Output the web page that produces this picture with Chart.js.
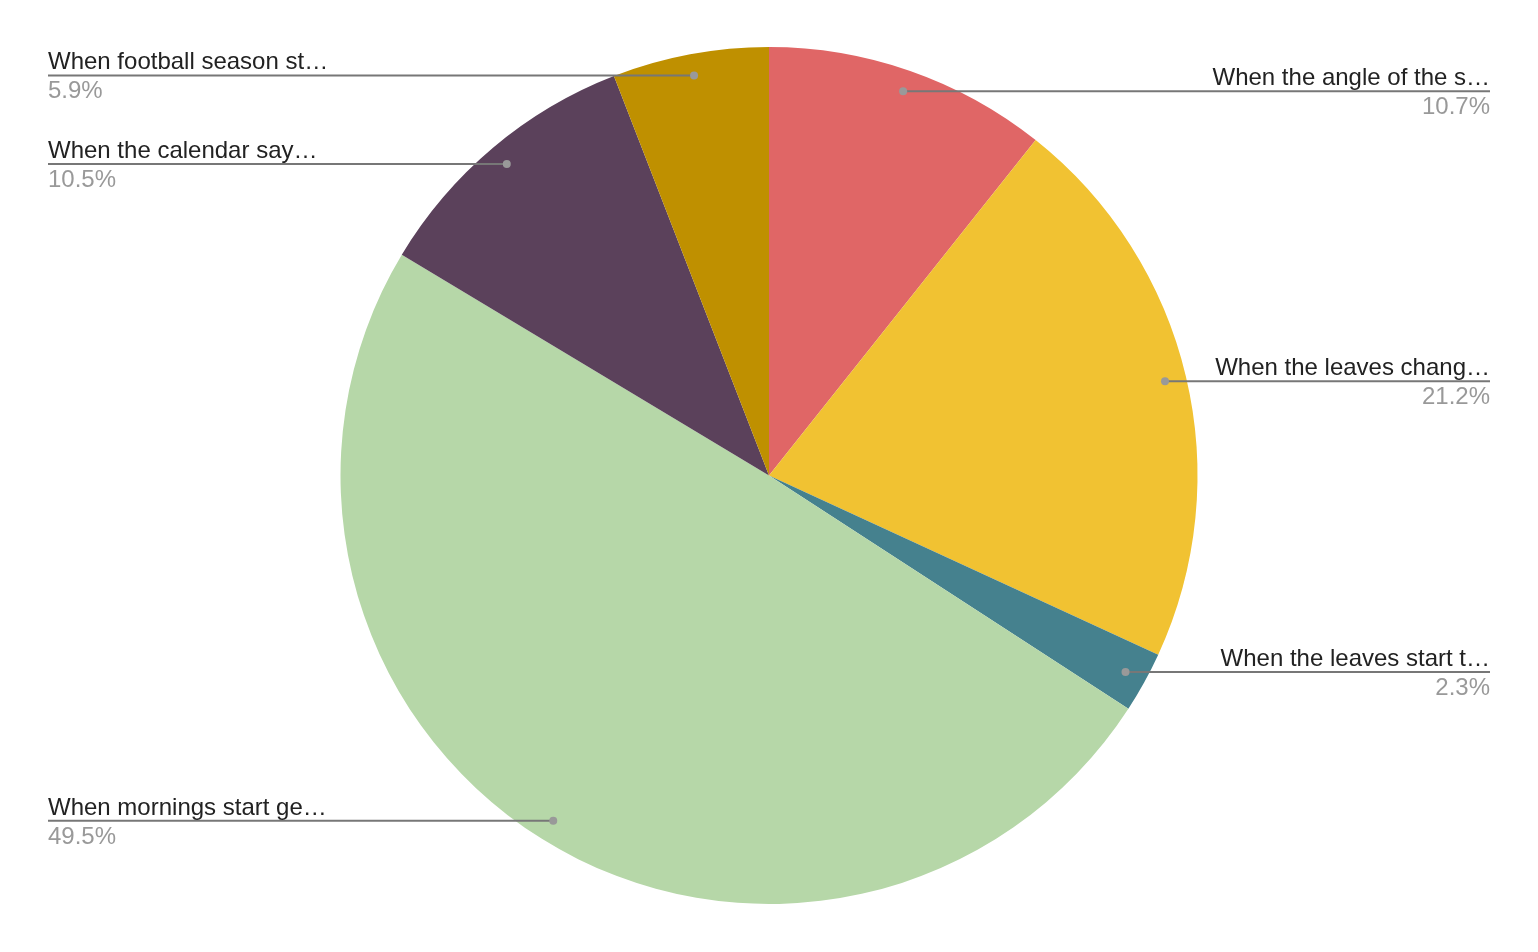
<!DOCTYPE html>
<html>
<head>
<meta charset="utf-8">
<script src="https://cdn.jsdelivr.net/npm/chart.js@4/dist/chart.umd.min.js"></script>
<style>
    body { margin: 0; background: #fff; }
    #wrap { width: 1538px; height: 952px; }
</style>
</head>
<body>
<div id="wrap"><canvas id="myChart"></canvas></div>
<script>
// podatki
const labels = [
    "When the angle of the s\u2026",
    "When the leaves chang\u2026",
    "When the leaves start t\u2026",
    "When mornings start ge\u2026",
    "When the calendar say\u2026",
    "When football season st\u2026",
];
const values = [10.7, 21.2, 2.3, 49.5, 10.5, 5.9];
const colors = ["#e06666", "#f1c232", "#45818e", "#b6d7a8", "#5b415b", "#bf9000"];

// oznake s crtami
const sideLabels = {
    id: "sideLabels",
    afterDraw(chart) {
        const ctx = chart.ctx;
        const arcs = chart.getDatasetMeta(0).data;
        const total = values.reduce((a, b) => a + b, 0);
        ctx.save();
        arcs.forEach((arc, i) => {
            const mid = (arc.startAngle + arc.endAngle) / 2;
            const r = arc.outerRadius * 0.95;
            const px = arc.x + Math.cos(mid) * r;
            const py = arc.y + Math.sin(mid) * r;
            const right = Math.cos(mid) >= 0;
            const edge = right ? 1490 : 48;

            ctx.strokeStyle = "#777777";
            ctx.lineWidth = 2;
            ctx.beginPath();
            ctx.moveTo(px, py);
            ctx.lineTo(edge, py);
            ctx.stroke();

            ctx.fillStyle = "#999999";
            ctx.beginPath();
            ctx.arc(px, py, 4, 0, Math.PI * 2);
            ctx.fill();

            ctx.font = "24px 'Liberation Sans', Arial, sans-serif";
            ctx.textAlign = right ? "right" : "left";
            ctx.textBaseline = "alphabetic";
            ctx.fillStyle = "#222222";
            ctx.fillText(labels[i], edge, py - 6);
            ctx.fillStyle = "#999999";
            ctx.fillText((values[i] / total * 100).toFixed(1) + "%", edge, py + 23);
        });
        ctx.restore();
    },
};

new Chart(document.getElementById("myChart"), {
    type: "pie",
    data: {
        labels: labels,
        datasets: [
            {
                data: values,
                backgroundColor: colors,
                borderWidth: 0,
            },
        ],
    },
    options: {
        responsive: true,
        maintainAspectRatio: false,
        animation: false,
        layout: { padding: { top: 47, bottom: 48, left: 0, right: 0 } },
        plugins: {
            legend: { display: false },
            tooltip: { enabled: false },
        },
    },
    plugins: [sideLabels],
});
</script>
</body>
</html>
